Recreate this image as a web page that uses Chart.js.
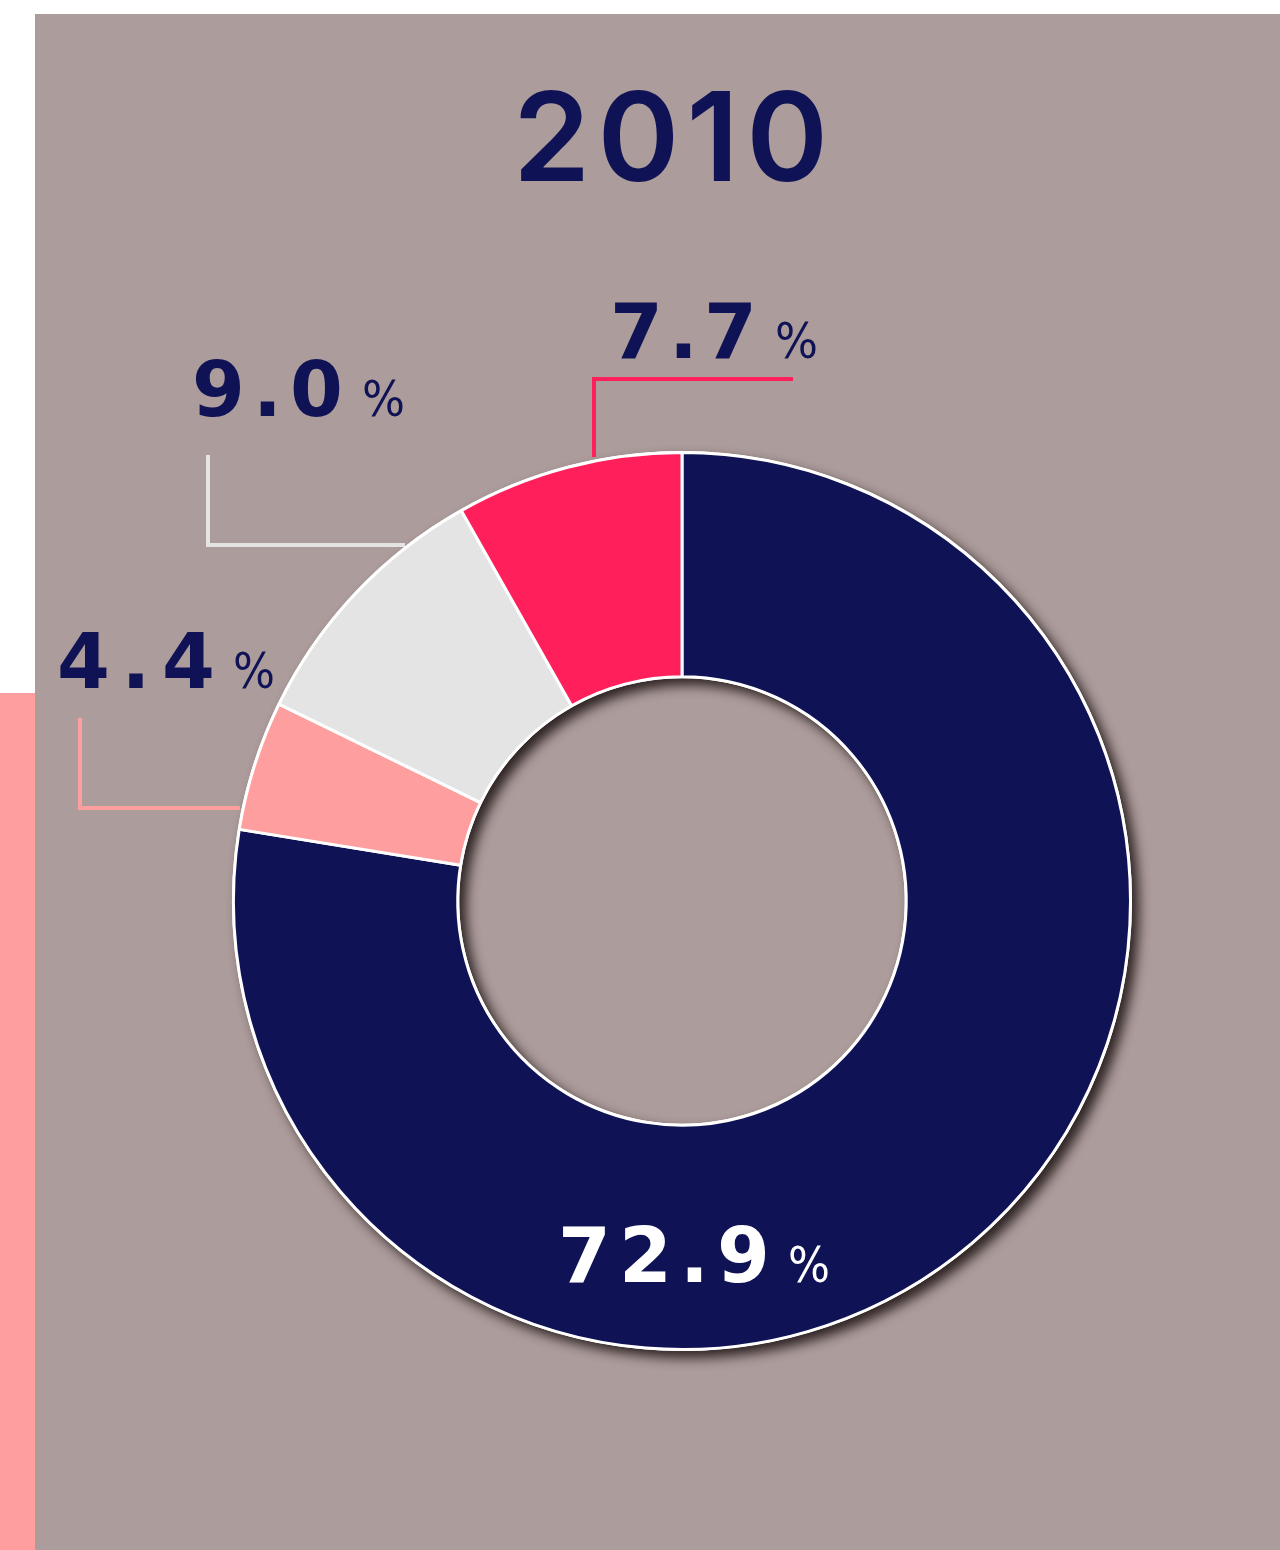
<!DOCTYPE html>
<html>
<head>
<meta charset="utf-8">
<script src="https://cdn.jsdelivr.net/npm/chart.js@4.4.1/dist/chart.umd.min.js"></script>
<style>
  html, body { margin: 0; padding: 0; background: #ffffff; }
  #wrap { width: 1280px; height: 1550px; position: relative; }
  canvas { display: block; }
</style>
</head>
<body>
<div id="wrap"><canvas id="c" width="1280" height="1550"></canvas></div>
<script>
// ---- data ----
const title = "2010";
const categories = ["Category A", "Category B", "Category C", "Category D"];
const values = [72.9, 4.4, 9.0, 7.7];
const colors = ["#0f1254", "#ff9e9e", "#e4e4e4", "#ff1f5b"];

const NAVY = "#0f1254";
const FONT = '"DejaVu Sans", sans-serif';
const TITLE_FONT = 'Inter, "DejaVu Sans", sans-serif';

function drawSpaced(ctx, text, x0, x1, baseline, font, color) {
  ctx.font = font;
  ctx.fillStyle = color;
  ctx.textBaseline = "alphabetic";
  ctx.textAlign = "left";
  const chars = Array.from(text);
  const widths = chars.map(c => ctx.measureText(c).width);
  const total = widths.reduce((a, b) => a + b, 0);
  const gap = chars.length > 1 ? ((x1 - x0) - total) / (chars.length - 1) : 0;
  let x = x0;
  chars.forEach((c, i) => { ctx.fillText(c, x, baseline); x += widths[i] + gap; });
}

const bgPlugin = {
  id: "bg",
  beforeDraw(chart) {
    const ctx = chart.ctx;
    ctx.save();
    ctx.fillStyle = "#ffffff";
    ctx.fillRect(0, 0, 1280, 1550);
    ctx.fillStyle = "#ac9c9b";
    ctx.fillRect(35, 14, 1245, 1536);
    ctx.fillStyle = "#ff9e9e";
    ctx.fillRect(0, 693, 35, 857);
    ctx.restore();
  }
};

const shadowPlugin = {
  id: "ringShadow",
  beforeDatasetsDraw(chart) {
    const arc = chart.getDatasetMeta(0).data[0];
    if (!arc) return;
    const { x, y, innerRadius, outerRadius } = arc.getProps(["x", "y", "innerRadius", "outerRadius"], true);
    const ctx = chart.ctx;
    ctx.save();
    ctx.shadowColor = "rgba(40,30,30,0.95)";
    ctx.shadowBlur = 12;
    ctx.shadowOffsetX = 7;
    ctx.shadowOffsetY = 7;
    ctx.beginPath();
    ctx.arc(x, y, outerRadius + 1.5, 0, Math.PI * 2);
    ctx.arc(x, y, innerRadius - 1.5, 0, Math.PI * 2, true);
    ctx.closePath();
    ctx.fillStyle = "#ffffff";
    ctx.fill("evenodd");
    ctx.restore();
  }
};

// label layout (positions only)
const labelLayout = [
  { dx0: 558, dx1: 770, base: 1282, px0: 788, px1: 830, color: "#ffffff", line: null },
  { dx0: 57, dx1: 215, base: 688, px0: 233, px1: 275, color: NAVY, line: [[80, 718], [80, 808], [240, 808]] },
  { dx0: 192, dx1: 343, base: 416, px0: 362, px1: 405, color: NAVY, line: [[208, 455], [208, 545], [405, 545]] },
  { dx0: 610, dx1: 757, base: 358, px0: 775, px1: 818, color: NAVY, line: [[594, 457], [594, 379], [793, 379]] }
];

const labelPlugin = {
  id: "labels",
  beforeDatasetsDraw(chart) {
    const ctx = chart.ctx;
    ctx.save();
    labelLayout.forEach((L, i) => {
      if (!L.line) return;
      ctx.strokeStyle = colors[i];
      ctx.lineWidth = 4;
      ctx.lineCap = "butt";
      ctx.lineJoin = "miter";
      ctx.beginPath();
      L.line.forEach((p, k) => k ? ctx.lineTo(p[0], p[1]) : ctx.moveTo(p[0], p[1]));
      ctx.stroke();
    });
    ctx.restore();
  },
  afterDraw(chart) {
    const ctx = chart.ctx;
    ctx.save();
    drawSpaced(ctx, title, 513, 828, 181, "600 124px " + TITLE_FONT, NAVY);
    values.forEach((v, i) => {
      const L = labelLayout[i];
      drawSpaced(ctx, v.toFixed(1), L.dx0, L.dx1, L.base, "bold 76px " + FONT, L.color);
      ctx.font = "normal 50px " + FONT;
      ctx.fillStyle = L.color;
      ctx.textAlign = "left";
      const w = ctx.measureText("%").width;
      ctx.save();
      ctx.translate(L.px0, L.base);
      ctx.scale((L.px1 - L.px0) / w, 1);
      ctx.fillText("%", 0, 0);
      ctx.restore();
    });
    ctx.restore();
  }
};

new Chart(document.getElementById("c"), {
  type: "doughnut",
  data: {
    labels: categories,
    datasets: [{
      data: values,
      backgroundColor: colors,
      borderColor: "#ffffff",
      borderWidth: 3,
      hoverOffset: 0
    }]
  },
  options: {
    responsive: false,
    devicePixelRatio: 1,
    animation: false,
    cutout: "50%",
    layout: { padding: { left: 232, top: 451, right: 148, bottom: 199 } },
    plugins: { legend: { display: false }, tooltip: { enabled: false }, title: { display: false } }
  },
  plugins: [bgPlugin, shadowPlugin, labelPlugin]
});
</script>
</body>
</html>
